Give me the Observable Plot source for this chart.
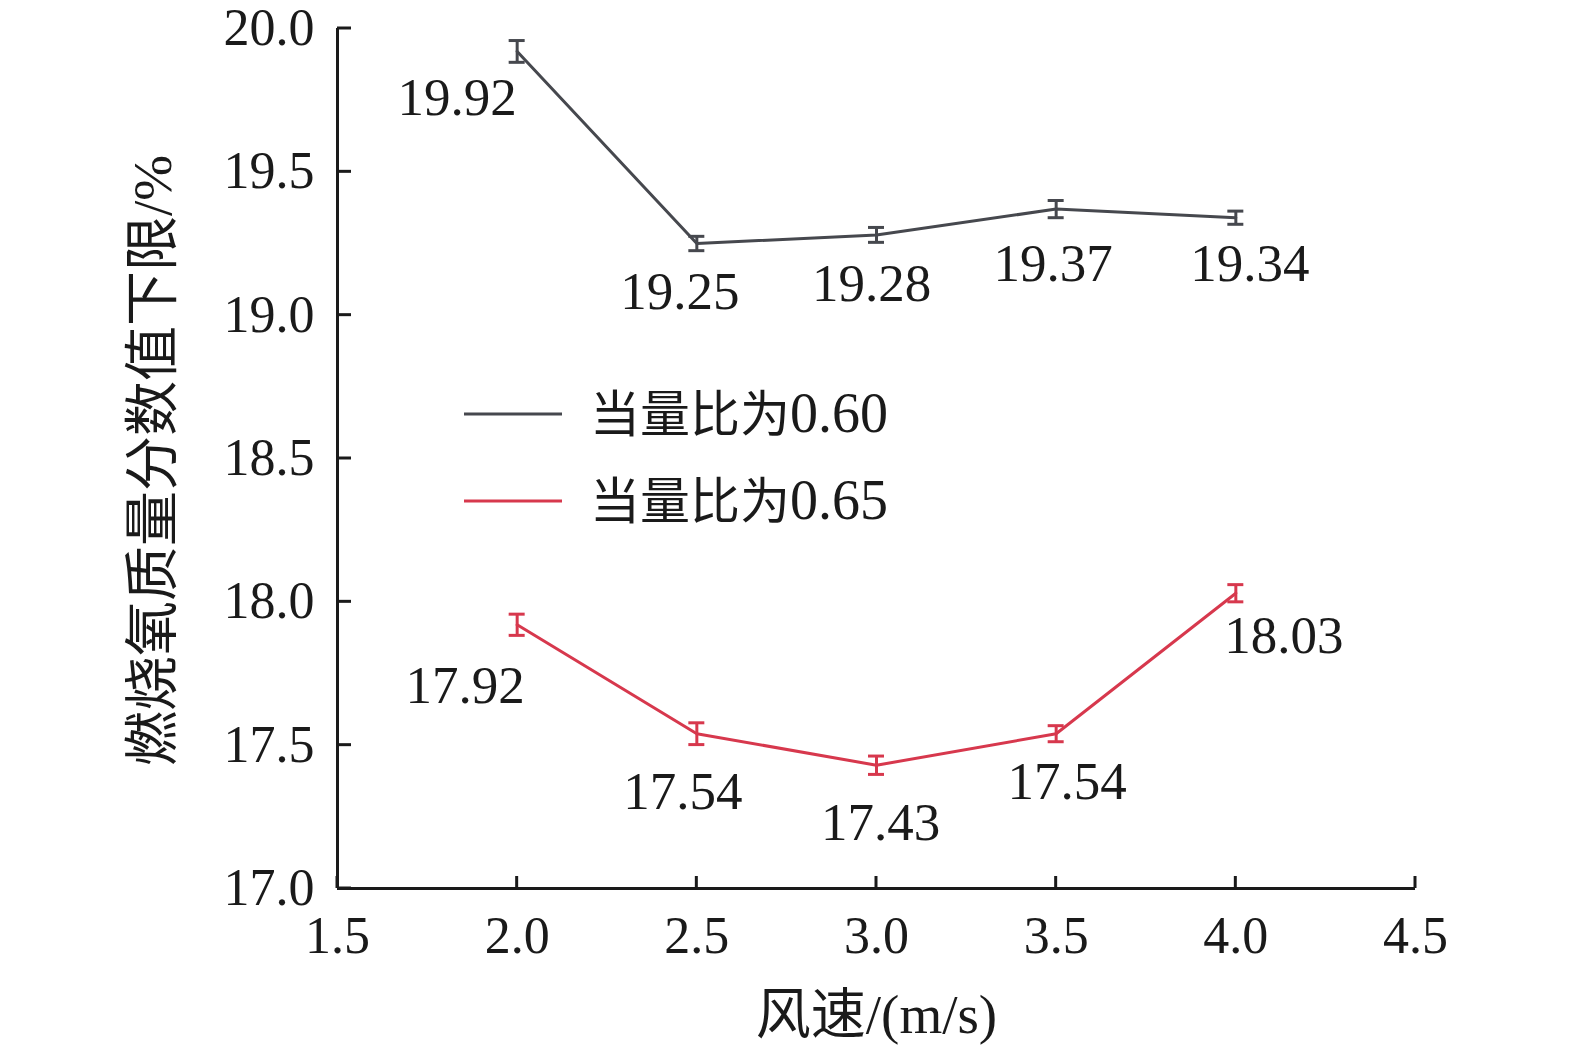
<!DOCTYPE html>
<html>
<head>
<meta charset="utf-8">
<script src="https://cdn.jsdelivr.net/npm/d3@7"></script>
<script src="https://cdn.jsdelivr.net/npm/@observablehq/plot@0.6"></script>
<style>
  html, body { margin: 0; padding: 0; background: #fff; overflow: hidden; width: 1575px; height: 1051px; }
  #chart svg { display: block; max-width: none !important; width: 1575px !important; height: 1051px !important; }
</style>
</head>
<body>
<div id="chart"></div>
<script>
// ---- data ----
const windSpeed = [2.0, 2.5, 3.0, 3.5, 4.0];
const series060 = [19.92, 19.25, 19.28, 19.37, 19.34];
const error060  = [0.038, 0.025, 0.026, 0.030, 0.023];
const series065 = [17.92, 17.54, 17.43, 17.54, 18.03];
const error065  = [0.037, 0.038, 0.032, 0.028, 0.030];
const seriesNames = ["当量比为0.60", "当量比为0.65"];
const legendPrefix = "当量比为";
const legendValues = ["0.60", "0.65"];
const xTicks = [1.5, 2.0, 2.5, 3.0, 3.5, 4.0, 4.5];
const yTicks = [17.0, 17.5, 18.0, 18.5, 19.0, 19.5, 20.0];
const xTitle = "风速/(m/s)";
const yTitle = "燃烧氧质量分数值下限/%";

// ---- styles ----
const colors = ["#46484e", "#d7384d"];
const font = "'Liberation Serif', 'Times New Roman', 'Noto Sans CJK SC', serif";
const ink = "#1a1a1a";
// label offsets in pixels (style only)
const labelDx060 = [-60, -17, -5, -3, 14];
const labelDy060 = [47, 49, 49, 55, 46];
const labelDx065 = [-52, -14, 4, 11, 48];
const labelDy065 = [61, 58, 58, 48, 43];

const rows = [];
windSpeed.forEach((w, i) => {
  rows.push({x: w, y: series060[i], e: error060[i], s: seriesNames[0], dx: labelDx060[i], dy: labelDy060[i]});
});
windSpeed.forEach((w, i) => {
  rows.push({x: w, y: series065[i], e: error065[i], s: seriesNames[1], dx: labelDx065[i], dy: labelDy065[i]});
});

const colorOf = s => colors[seriesNames.indexOf(s)];

// inward ticks drawn through the scales
const inwardTicks = (index, scales, values, dims) => {
  const g = d3.create("svg:g").attr("stroke", ink).attr("stroke-width", 3);
  const left = dims.marginLeft, bottom = dims.height - dims.marginBottom;
  for (const t of yTicks) {
    const yy = scales.y(t);
    g.append("line").attr("x1", left).attr("x2", left + 14).attr("y1", yy).attr("y2", yy);
  }
  for (const t of xTicks) {
    const xx = scales.x(t);
    g.append("line").attr("x1", xx).attr("x2", xx).attr("y1", bottom).attr("y2", bottom - 12);
  }
  return g.node();
};

// in-plot legend
const legend = (index, scales, values, dims) => {
  const g = d3.create("svg:g");
  const x0 = dims.marginLeft + 127;
  const rowsY = [dims.marginTop + 386, dims.marginTop + 473];
  seriesNames.forEach((name, i) => {
    g.append("line").attr("x1", x0).attr("x2", x0 + 98)
      .attr("y1", rowsY[i]).attr("y2", rowsY[i])
      .attr("stroke", colors[i]).attr("stroke-width", 3);
    const t = g.append("text").attr("x", x0 + 126).attr("y", rowsY[i] + 18)
      .attr("text-anchor", "start")
      .attr("font-family", font).attr("fill", ink);
    t.append("tspan").attr("font-size", 50).text(legendPrefix);
    t.append("tspan").attr("font-size", 56).text(legendValues[i]);
  });
  return g.node();
};

const labelMarks = rows.map(r => Plot.text([r], {
  x: "x", y: "y", text: d => d.y.toFixed(2),
  dx: r.dx, dy: r.dy, fontSize: 53, fill: ink, fontFamily: font
}));

const chart = Plot.plot({
  width: 1575,
  height: 1051,
  marginLeft: 337,
  marginRight: 160,
  marginTop: 28,
  marginBottom: 163,
  style: {fontFamily: font, background: "#fff", color: ink},
  x: {domain: [1.5, 4.5]},
  y: {domain: [17, 20]},
  marks: [
    Plot.axisY({ticks: yTicks, tickFormat: d3.format(".1f"), tickSize: 0, tickPadding: 23,
      fontSize: 52, label: null, fill: ink}),
    Plot.axisX({ticks: xTicks, tickFormat: d3.format(".1f"), tickSize: 0, tickPadding: 28,
      fontSize: 52, label: null, fill: ink}),
    Plot.ruleX([1.5], {stroke: ink, strokeWidth: 3}),
    Plot.ruleY([17], {stroke: ink, strokeWidth: 3}),
    inwardTicks,
    Plot.line(rows, {x: "x", y: "y", z: "s", stroke: d => colorOf(d.s), strokeWidth: 3}),
    Plot.ruleX(rows, {x: "x", y1: d => d.y - d.e, y2: d => d.y + d.e, stroke: d => colorOf(d.s), strokeWidth: 3}),
    Plot.ruleY(rows, {y: d => d.y - d.e, x1: "x", x2: "x", insetLeft: -8, insetRight: -8, stroke: d => colorOf(d.s), strokeWidth: 3}),
    Plot.ruleY(rows, {y: d => d.y + d.e, x1: "x", x2: "x", insetLeft: -8, insetRight: -8, stroke: d => colorOf(d.s), strokeWidth: 3}),
    ...labelMarks,
    legend,
    Plot.text([yTitle], {frameAnchor: "left", textAnchor: "middle", lineAnchor: "middle", dx: -184, dy: 2, rotate: -90, fontSize: 55, fill: ink, fontFamily: font}),
    Plot.text([xTitle], {frameAnchor: "bottom", textAnchor: "middle", lineAnchor: "middle", dy: 127, fontSize: 55, fill: ink, fontFamily: font})
  ]
});
document.getElementById("chart").appendChild(chart);
</script>
</body>
</html>
